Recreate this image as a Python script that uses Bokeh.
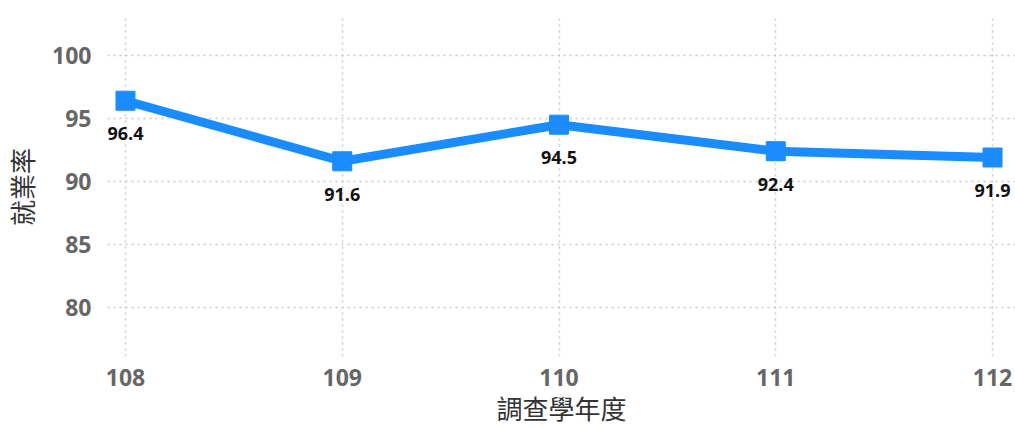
from bokeh.plotting import figure
from bokeh.models import ColumnDataSource, LabelSet, Range1d, FixedTicker
from bokeh.core.properties import value
from bokeh.embed import file_html
from bokeh.resources import INLINE

years = [108, 109, 110, 111, 112]
rates = [96.4, 91.6, 94.5, 92.4, 91.9]
labels = ["96.4", "91.6", "94.5", "92.4", "91.9"]
y_ticks = [80, 85, 90, 95, 100]

src = ColumnDataSource(dict(x=years, y=rates, lab=labels))

p = figure(width=1015, height=428, output_backend="svg", toolbar_location=None,
           x_range=Range1d(107.917, 112.106), y_range=Range1d(76.12, 103.0),
           min_border_left=107, min_border_right=0, min_border_top=17, min_border_bottom=66)
p.outline_line_color = None
p.background_fill_color = "white"
p.border_fill_color = "white"

line_color = "#1a8cff"
p.line("x", "y", source=src, line_color=line_color, line_width=9)
p.scatter("x", "y", source=src, marker="square", size=19, fill_color=line_color, line_color=line_color)

lbl = LabelSet(x="x", y="y", text="lab", source=src, y_offset=-33, text_align="center",
               text_baseline="middle", text_font=value("Open Sans"), text_font_size="18px",
               text_font_style="bold", text_color="#111111")
p.add_layout(lbl)

for ax in (p.xaxis[0], p.yaxis[0]):
    ax.axis_line_color = None
    ax.major_tick_line_color = None
    ax.minor_tick_line_color = None
    ax.major_tick_in = 0
    ax.major_tick_out = 0
    ax.major_label_text_font = "Open Sans"
    ax.major_label_text_font_style = "bold"
    ax.major_label_text_font_size = "23px"
    ax.major_label_text_color = "#666666"
    ax.axis_label_text_font = "Noto Sans CJK TC"
    ax.axis_label_text_font_style = "normal"
    ax.axis_label_text_font_size = "26px"
    ax.axis_label_text_color = "#333333"

p.xaxis.ticker = FixedTicker(ticks=years)
p.yaxis.ticker = FixedTicker(ticks=y_ticks)
p.xaxis.major_label_standoff = 12
p.yaxis.major_label_standoff = 16
p.xaxis.axis_label = "調查學年度"
p.yaxis.axis_label = "就業率"
p.xaxis.axis_label_standoff = 0
p.yaxis.axis_label_standoff = 9

for g in (p.xgrid[0], p.ygrid[0]):
    g.grid_line_color = "#c8c8c8"
    g.grid_line_dash = "2 4"
    g.grid_line_width = 1.5

open("out.html", "w").write(file_html(p, INLINE))
